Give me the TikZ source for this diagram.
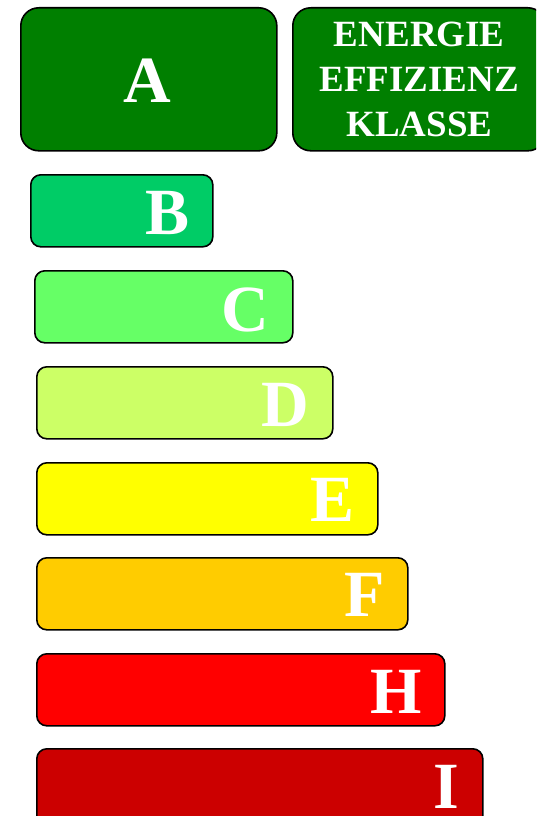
\documentclass[tikz,border=0pt]{standalone}
\usepackage{fontspec}
\setmainfont{Liberation Serif}
\usetikzlibrary{calc}
\definecolor{klasseA}{HTML}{007F00}
\definecolor{klasseB}{HTML}{00CC66}
\definecolor{klasseC}{HTML}{66FF66}
\definecolor{klasseD}{HTML}{CCFF66}
\definecolor{klasseE}{HTML}{FFFF00}
\definecolor{klasseF}{HTML}{FFCC00}
\definecolor{klasseH}{HTML}{FF0000}
\definecolor{klasseI}{HTML}{CC0000}

\begin{document}
\begin{tikzpicture}[x=1pt,y=-1pt,line cap=round,
  bar/.style={draw=black,line width=1.6pt,rounded corners=10pt,anchor=north west,inner sep=0pt,minimum height=72pt},
  bigbox/.style={draw=black,line width=1.6pt,rounded corners=18pt,anchor=north west,inner sep=0pt,minimum height=143pt},
  klasse/.style={text=white,inner sep=0pt,anchor=base east,font=\bfseries\fontsize{66}{66}\selectfont}]
\useasboundingbox (0,0) rectangle (536,816);
\clip (0,0) rectangle (536,816);
% top row
\node[bigbox,fill=klasseA,minimum width=256pt] (boxA) at (20,7) {};
\node[klasse,anchor=base] (lblA) at ($(boxA.north)+(-1,95)$) {A};
\node[bigbox,fill=klasseA,minimum width=253pt,text=white,align=center,
  font=\bfseries\fontsize{37}{45}\selectfont] (boxInfo) at (292,7) {ENERGIE\\EFFIZIENZ\\KLASSE};
% class bars
\node[bar,fill=klasseB,minimum width=182pt] (boxB) at (30,174) {};
\node[klasse] (lblB) at ($(boxB.north east)+(-24,60)$) {B};
\node[bar,fill=klasseC,minimum width=258pt] (boxC) at (34,270) {};
\node[klasse] (lblC) at ($(boxC.north east)+(-24,61)$) {C};
\node[bar,fill=klasseD,minimum width=296pt] (boxD) at (36,366) {};
\node[klasse] (lblD) at ($(boxD.north east)+(-24,60)$) {D};
\node[bar,fill=klasseE,minimum width=341pt] (boxE) at (36,462) {};
\node[klasse] (lblE) at ($(boxE.north east)+(-24,59)$) {E};
\node[bar,fill=klasseF,minimum width=371pt] (boxF) at (36,557) {};
\node[klasse] (lblF) at ($(boxF.north east)+(-24,59)$) {F};
\node[bar,fill=klasseH,minimum width=408pt] (boxH) at (36,653) {};
\node[klasse] (lblH) at ($(boxH.north east)+(-24,60)$) {H};
\node[bar,fill=klasseI,minimum width=446pt,minimum height=90pt] (boxI) at (36,748) {};
\node[klasse] (lblI) at ($(boxI.north east)+(-24,60)$) {I};
\end{tikzpicture}
\end{document}
